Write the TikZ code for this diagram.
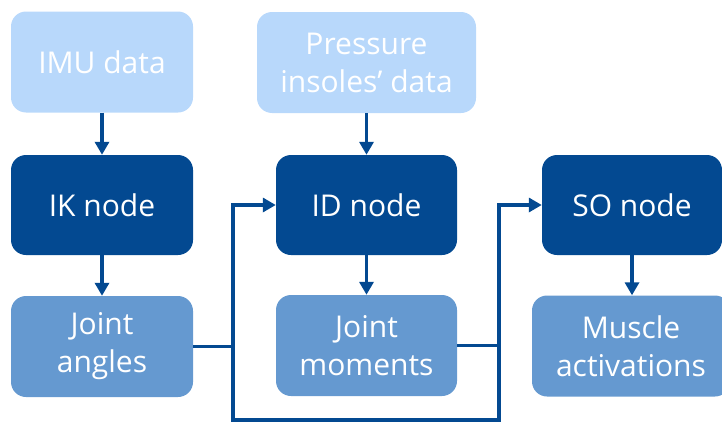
\documentclass[tikz,border=0pt]{standalone}
\usepackage{fontspec}
\setmainfont{Open Sans}
\usepackage{xcolor}
\usetikzlibrary{arrows.meta, positioning, calc}

\definecolor{inputblue}{RGB}{184,216,251}
\definecolor{nodeblue}{RGB}{3,73,145}
\definecolor{outblue}{RGB}{101,153,208}

\tikzset{
  box/.style={rounded corners=15pt, text=white, align=center,
    font=\fontsize{30}{38}\selectfont, inner sep=0pt},
  inbox/.style={box, fill=inputblue},
  nodebox/.style={box, fill=nodeblue},
  outbox/.style={box, fill=outblue},
  link/.style={draw=nodeblue, line width=3.5pt,
    -{Triangle[length=13pt,width=14pt]}},
  wire/.style={draw=nodeblue, line width=3.5pt}
}

\begin{document}
\begin{tikzpicture}[x=1pt, y=-1pt]
\useasboundingbox (0,0) rectangle (722,423);

% Input data
\node[inbox, minimum width=182pt, minimum height=101pt] (imu) at (102,62) {IMU data};
\node[inbox, minimum width=219pt, minimum height=101pt] (press) at (366.5,62.5) {Pressure\\insoles’ data};

% Processing nodes
\node[nodebox, minimum width=182pt, minimum height=100pt] (ik) at (102,205) {IK node};
\node[nodebox, minimum width=181pt, minimum height=100pt] (id) at (366.5,205) {ID node};
\node[nodebox, minimum width=180pt, minimum height=100pt] (so) at (632,205) {SO node};

% Outputs
\node[outbox, minimum width=182pt, minimum height=101pt] (ja) at (102,346.5) {Joint\\angles};
\node[outbox, minimum width=181pt, minimum height=101pt] (jm) at (366.5,345.5) {Joint\\moments};
\node[outbox, minimum width=198pt, minimum height=101pt] (ma) at (631,346) {Muscle\\activations};

% Vertical flow
\draw[link] (imu) -- (ik);
\draw[link] (press) -- (id);
\draw[link] (ik) -- (ja);
\draw[link] (id) -- (jm);
\draw[link] (so.south) -- (so.south |- ma.north);

% Feedback loops
\coordinate (loopL) at (233,420);
\coordinate (loopR) at (499,420);
\draw[link] (ja.east) -- (ja.east -| loopL) |- (id.west);
\draw[link] (ja.east -| loopL) -- (loopL) -- (loopR) |- (so.west);
\draw[wire] (jm.east) -- (jm.east -| loopR);
\end{tikzpicture}
\end{document}
